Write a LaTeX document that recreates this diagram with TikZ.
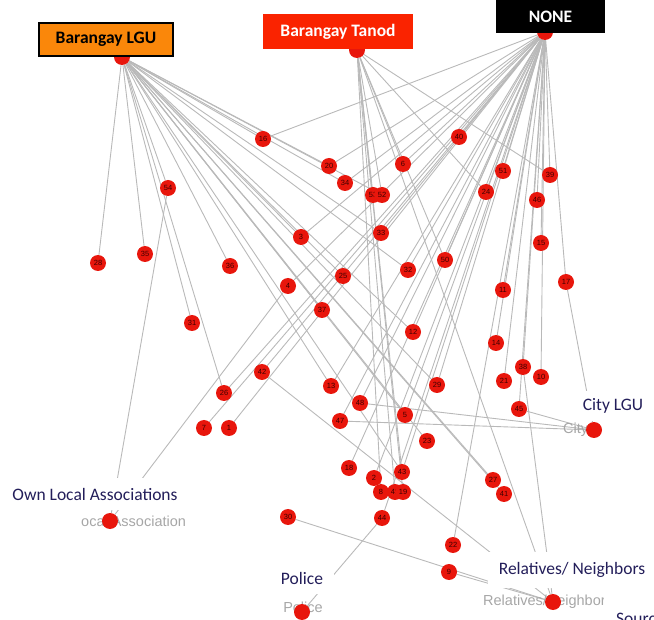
\documentclass[tikz,border=0pt]{standalone}
\usepackage{fontspec}
\setmainfont{Carlito}
\newfontfamily\arialf{Liberation Sans}
\definecolor{nodered}{RGB}{232,22,12}
\definecolor{edgegray}{RGB}{185,185,185}
\definecolor{lguorange}{RGB}{250,135,10}
\definecolor{tanodred}{RGB}{250,35,0}
\definecolor{navy}{RGB}{35,30,90}
\definecolor{numtxt}{RGB}{60,0,0}
\pgfdeclarelayer{bg}
\pgfsetlayers{bg,main}
\begin{document}
\begin{tikzpicture}[x=1pt,y=-1pt,
  pt/.style={circle,fill=nodered,minimum size=16pt,inner sep=0pt,font=\arialf\fontsize{7.5}{8}\selectfont,text=numtxt},
  edge/.style={draw=edgegray,line width=0.9pt},
  lbl/.style={font=\fontsize{17.5}{20}\selectfont,text=navy,fill=white,inner xsep=11pt,inner ysep=10pt},
  ghost/.style={font=\arialf\fontsize{14.5}{16}\selectfont,text=gray!70,inner sep=0pt},
  hubtxt/.style={font=\bfseries\fontsize{17.5}{20}\selectfont,inner sep=0pt}]
\useasboundingbox (0,0) rectangle (654,620);
% numbered nodes
\foreach \n/\x/\y in {16/263/139,40/459/137,20/329/166,6/403/164,51/503/171,39/550/175,34/345/183,24/486/192,
  54/168/188,53/373/195,52/382/195,46/537/200,3/301/237,33/381/233,15/541/243,35/145/254,28/98/263,50/445/260,
  36/230/266,32/408/270,25/343/276,17/566/282,4/288/286,11/503/290,37/322/310,31/192/323,12/413/332,14/496/343,
  38/523/367,10/541/377,21/504/381,42/262/372,26/224/393,7/204/428,1/229/428,13/331/386,29/437/385,48/360/403,
  47/340/421,5/405/415,45/519/409,23/427/441,18/349/468,2/374/478,43/402/472,27/493/480,8/381/492,49/395/492,
  19/403/492,41/504/494,44/382/518,30/288/517,22/453/545,9/449/572}
  \node[pt] (n\n) at (\x,\y) {\n};
% category labels
\node[lbl] (ownlbl) at (95,494) {Own Local Associations};
\node[lbl,inner ysep=8pt] (citylbl) at (613,406) {City LGU};
\node[lbl] (policelbl) at (302,578) {Police};
\node[lbl] (rellbl) at (572,570) {Relatives/ Neighbors};
% ghost labels
\node[ghost,anchor=west] (ownghost) at (81,521) {ocal Association};
\node[ghost,anchor=west] (cityghost) at (563,430) {City L};
\node[ghost] (policeghost) at (303,607) {Police};
\node[ghost,anchor=west] (relghost) at (483,602) {Relatives/Neighbors};
\fill[white] (604,592) rectangle (654,620);
\node[font=\fontsize{17.5}{20}\selectfont,text=navy,anchor=base west,inner sep=0pt] (src) at (616,624) {Source};
% category nodes
\node[pt] (own) at (110,521) {};
\node[pt] (city) at (594,430) {};
\node[pt] (police) at (302,612) {};
\node[pt] (rel) at (553,602) {};
% hubs
\node[pt] (lgu) at (122,57) {};
\node[pt] (tanod) at (357,50) {};
\node[pt] (none) at (545,32) {};
\node[draw=black,line width=1.1pt,fill=lguorange,minimum width=134pt,minimum height=33pt,hubtxt,text=black] (lgubox) at (106,39.5) {Barangay LGU};
\node[fill=tanodred,minimum width=150pt,minimum height=35pt,hubtxt,text=white] (tanodbox) at (338,31.5) {Barangay Tanod};
\node[fill=black,minimum width=109pt,minimum height=33pt,hubtxt,text=white] (nonebox) at (550.5,16.5) {NONE};
% edges
\begin{pgfonlayer}{bg}
\foreach \b in {28,35,54,36,31,26,16,20,34,52,3,33,25,32,37,12,29,5,23,27,41,43,13}
  \draw[edge] (lgu) -- (n\b);
\foreach \b in {53,52,39,24,6,43,49,19,8,50}
  \draw[edge] (tanod) -- (n\b);
\draw[edge] (tanod) -- (rel);
\foreach \b in {16,20,40,51,46,15,17,11,14,21,38,10,45,50,12,3,4,42,26,1,7,13,29,22,18,2,33,32,6,24,39,44,5,48,47,43,34}
  \draw[edge] (none) -- (n\b);
\foreach \a/\b in {n54/own,n4/own,n17/city,n48/city,n47/city,n45/city,n42/rel,n38/rel,n30/rel,n9/rel,n44/police}
  \draw[edge] (\a) -- (\b);
\end{pgfonlayer}
\end{tikzpicture}
\end{document}
